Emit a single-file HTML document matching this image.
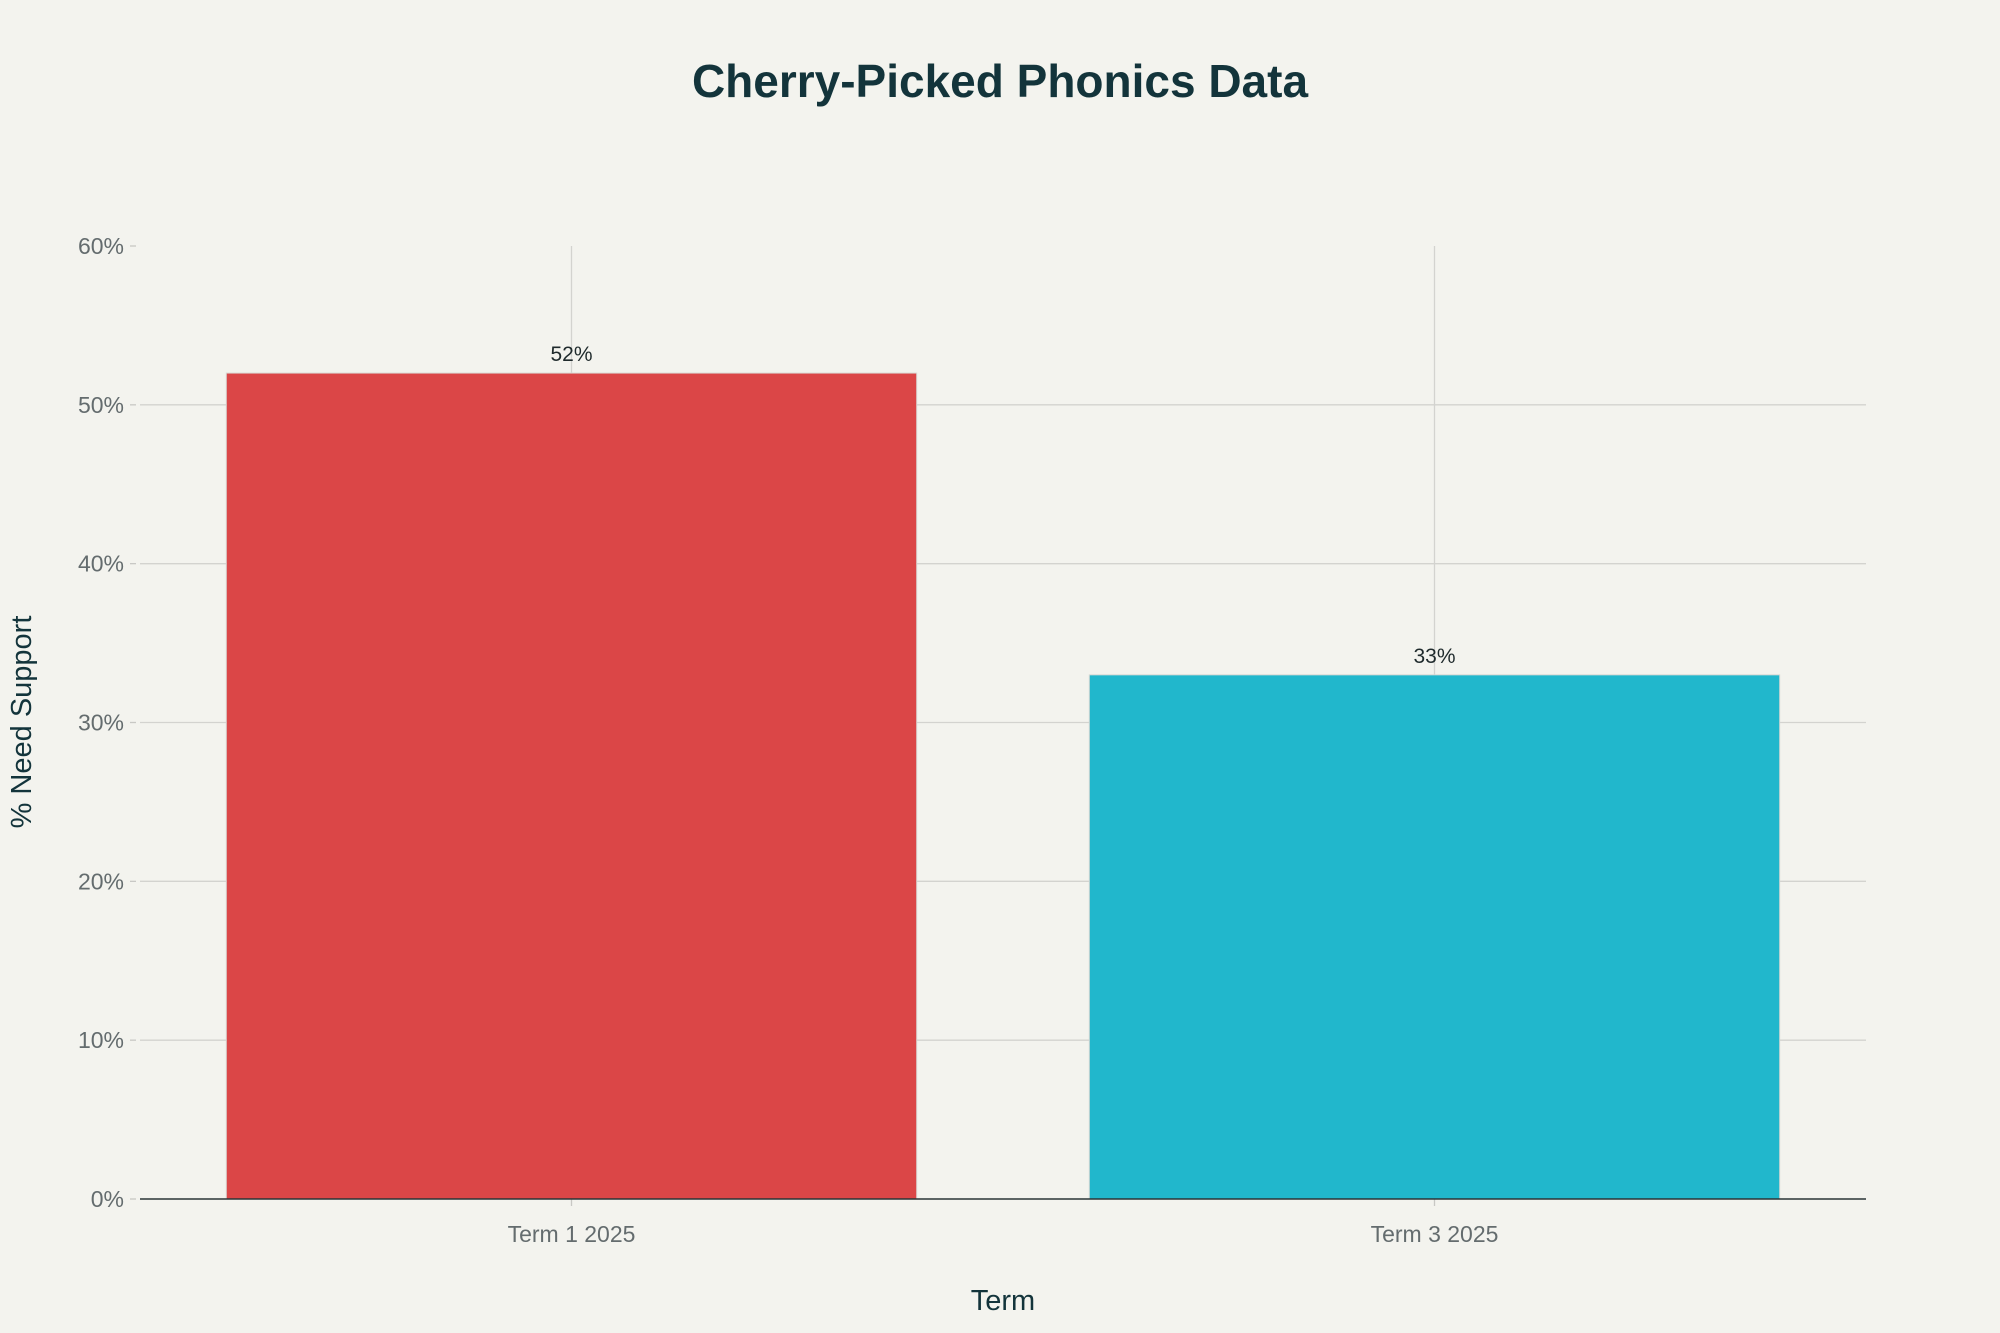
<!DOCTYPE html>
<html><head><meta charset="utf-8"><style>
html,body{margin:0;padding:0;background:#f3f3ee;}
svg{display:block;font-family:"Liberation Sans",sans-serif;}
</style></head><body>
<svg id="chart" width="2000" height="1333" viewBox="0 0 2000 1333">
<rect x="0" y="0" width="2000" height="1333" fill="#f3f3ee"/>
<text x="1000" y="97" text-anchor="middle" font-size="46" font-weight="bold" fill="#13343b">Cherry-Picked Phonics Data</text>
<g id="grid"></g>
<g id="bars"></g>
<g id="axes"></g>
<text x="1003" y="1310" text-anchor="middle" font-size="29" fill="#13343b">Term</text>
<text transform="translate(31,722) rotate(-90)" text-anchor="middle" font-size="29" fill="#13343b">% Need Support</text>
</svg>
<script>
const categories = ["Term 1 2025", "Term 3 2025"];
const values = [52, 33];
const valueLabels = ["52%", "33%"];
const barColors = ["#db4647", "#21b7cc"];
const yTicks = [0, 10, 20, 30, 40, 50, 60];
const yTickLabels = ["0%", "10%", "20%", "30%", "40%", "50%", "60%"];

const NS = "http://www.w3.org/2000/svg";
const plotLeft = 140, plotRight = 1866, plotTop = 246, plotBottom = 1199;
const yMax = 60;
function yScale(v){ return plotBottom - (v / yMax) * (plotBottom - plotTop); }
const band = (plotRight - plotLeft) / categories.length;
function xc(i){ return plotLeft + band * (i + 0.5); }
const barW = band * 0.8;
function mk(tag, attrs, parent){ const e = document.createElementNS(NS, tag); for (const k in attrs) e.setAttribute(k, attrs[k]); parent.appendChild(e); return e; }
const gridG = document.getElementById('grid'), barsG = document.getElementById('bars'), axesG = document.getElementById('axes');

yTicks.forEach((t, i) => {
  if (t > 0 && t < yMax) {
    const l = mk('line', {x1: plotLeft, x2: plotRight, y1: yScale(t), y2: yScale(t), stroke: '#d3d3cf', 'stroke-width': 1.3}, gridG);
    
    
  }
  const tk = mk('line', {x1: plotLeft - 10, x2: plotLeft - 4, y1: yScale(t), y2: yScale(t), stroke: '#c8c8c4', 'stroke-width': 1.3}, axesG);
  
  
  const tx = mk('text', {x: plotLeft - 16, y: yScale(t) + 8, 'text-anchor': 'end', 'font-size': 23, fill: '#646c6e'}, axesG);
  tx.textContent = yTickLabels[i];
  
  
});
categories.forEach((c, i) => {
  const g = mk('line', {x1: xc(i), x2: xc(i), y1: plotTop, y2: plotBottom, stroke: '#d3d3cf', 'stroke-width': 1.3}, gridG);
  
  
  const r = mk('rect', {x: xc(i) - barW / 2, y: yScale(values[i]), width: barW, height: plotBottom - yScale(values[i]), fill: barColors[i], stroke: '#d8d8d4', 'stroke-width': 1}, barsG);
  
  
  const vl = mk('text', {x: xc(i), y: yScale(values[i]) - 12, 'text-anchor': 'middle', 'font-size': 21, fill: '#1f2a2c'}, barsG);
  vl.textContent = valueLabels[i];
  
  
  const tk = mk('line', {x1: xc(i), x2: xc(i), y1: plotBottom, y2: plotBottom + 7, stroke: '#c8c8c4', 'stroke-width': 1.3}, axesG);
  
  
  const tl = mk('text', {x: xc(i), y: plotBottom + 43, 'text-anchor': 'middle', 'font-size': 23, fill: '#646c6e'}, axesG);
  tl.textContent = c;
  
  
});
const ax = mk('line', {x1: plotLeft, x2: plotRight, y1: plotBottom, y2: plotBottom, stroke: '#2b3436', 'stroke-width': 1.5}, axesG);


</script>
</body></html>
